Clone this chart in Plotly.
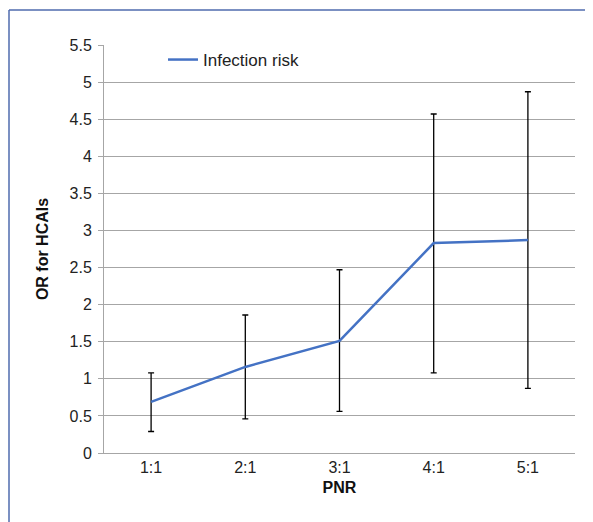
import plotly.graph_objects as go

categories = ["1:1", "2:1", "3:1", "4:1", "5:1"]
odds_ratio = [0.69, 1.16, 1.51, 2.83, 2.87]
ci_upper = [1.08, 1.86, 2.47, 4.57, 4.87]
ci_lower = [0.29, 0.46, 0.56, 1.08, 0.87]

err_plus = [u - v for u, v in zip(ci_upper, odds_ratio)]
err_minus = [v - l for v, l in zip(odds_ratio, ci_lower)]

fig = go.Figure()
fig.add_trace(go.Scatter(
    x=categories, y=odds_ratio, mode="lines", name="Infection risk",
    line=dict(color="#4472C4", width=2.5),
    error_y=dict(type="data", symmetric=False, array=err_plus, arrayminus=err_minus,
                 color="black", thickness=1.3, width=3),
))

font = "Liberation Sans, Arial, sans-serif"
OFF = 8  # page body margin
W, H = 593 - OFF, 522 - OFF
# page-coordinate plot edges
PL, PR, PT, PB = 104, 575, 45, 453
l, r, t, b = PL - OFF, W - (PR - OFF), PT - OFF, H - (PB - OFF)
pw, ph = PR - PL, PB - PT

def px(x):
    return (x - PL) / pw

def py(y):
    return (PB - y) / ph

fig.update_layout(
    width=W, height=H,
    margin=dict(l=l, r=r, t=t, b=b),
    paper_bgcolor="white", plot_bgcolor="white",
    font=dict(family=font, size=16, color="#222222"),
    showlegend=True,
    legend=dict(x=px(163), y=py(60), xanchor="left", yanchor="middle",
                bgcolor="rgba(0,0,0,0)", font=dict(size=17, color="#222222"),
                itemwidth=30),
    xaxis=dict(range=[-0.5, 4.5], showgrid=False, showline=True, linecolor="#a6a6a6",
               linewidth=1, ticks="", tickfont=dict(size=16),
               title=dict(text="<b>PNR</b>", font=dict(size=16, color="#111111"), standoff=6)),
    yaxis=dict(range=[0, 5.5], dtick=0.5, showgrid=True, gridcolor="#a6a6a6", gridwidth=1,
               showline=True, linecolor="#a6a6a6", linewidth=1, ticks="outside", ticklen=5,
               tickcolor="#a6a6a6", tickfont=dict(size=16), zeroline=False, ticklabelstandoff=3,
               title=dict(text="<b>OR for HCAIs</b>", font=dict(size=16, color="#111111"), standoff=16)),
    shapes=[
        dict(type="line", xref="paper", yref="paper", x0=px(9), x1=px(9), y0=py(530), y1=py(10),
             line=dict(color="#4F6BAE", width=1.5)),
        dict(type="line", xref="paper", yref="paper", x0=px(9), x1=px(600), y0=py(10), y1=py(10),
             line=dict(color="#4F6BAE", width=1.5)),
    ],
)

fig.write_html("out.html")
